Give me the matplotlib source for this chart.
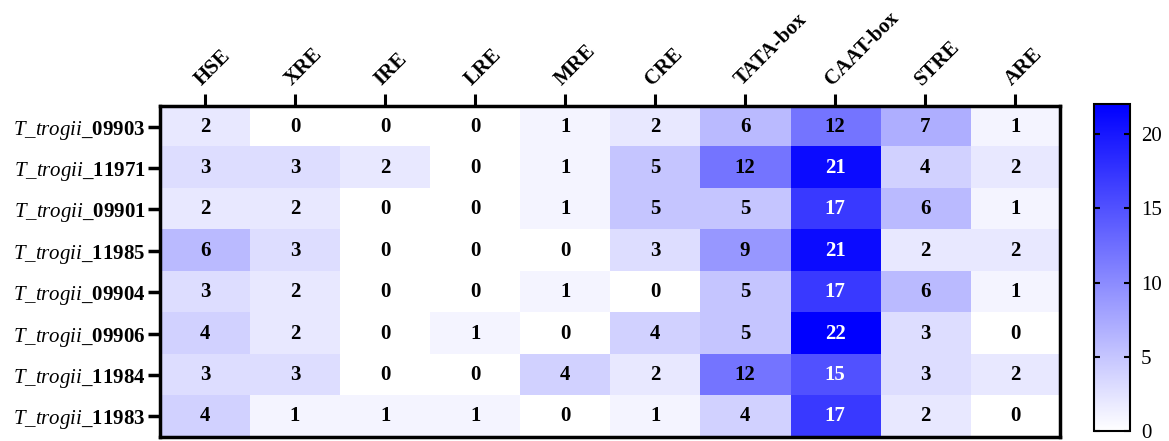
import numpy as np
import matplotlib
matplotlib.use("Agg")
import matplotlib.pyplot as plt
from matplotlib.colors import LinearSegmentedColormap

plt.rcParams['font.family'] = 'Liberation Serif'
plt.rcParams['mathtext.fontset'] = 'custom'
plt.rcParams['mathtext.rm'] = 'Liberation Serif'
plt.rcParams['mathtext.it'] = 'Liberation Serif:italic'
plt.rcParams['mathtext.bf'] = 'Liberation Serif:bold'

elements = ["HSE", "XRE", "IRE", "LRE", "MRE", "CRE", "TATA-box", "CAAT-box", "STRE", "ARE"]
genes = ["09903", "11971", "09901", "11985", "09904", "09906", "11984", "11983"]

counts = np.array([
    [2, 0, 0, 0, 1, 2, 6, 12, 7, 1],
    [3, 3, 2, 0, 1, 5, 12, 21, 4, 2],
    [2, 2, 0, 0, 1, 5, 5, 17, 6, 1],
    [6, 3, 0, 0, 0, 3, 9, 21, 2, 2],
    [3, 2, 0, 0, 1, 0, 5, 17, 6, 1],
    [4, 2, 0, 1, 0, 4, 5, 22, 3, 0],
    [3, 3, 0, 0, 4, 2, 12, 15, 3, 2],
    [4, 1, 1, 1, 0, 1, 4, 17, 2, 0],
])

cmap = LinearSegmentedColormap.from_list("wb", ["#ffffff", "#0000ff"])

fig = plt.figure(figsize=(11.69, 4.41), dpi=100)
ax = fig.add_axes([0.1369, 0.0091, 0.770, 0.7506])
cax = fig.add_axes([0.9358, 0.022, 0.0308, 0.742])

im = ax.imshow(counts, cmap=cmap, vmin=0, vmax=22, aspect='auto')

for i in range(counts.shape[0]):
    for j in range(counts.shape[1]):
        v = counts[i, j]
        ax.text(j, i, str(v), ha='center', va='center', fontsize=15,
                fontweight='bold', color='white' if v >= 15 else 'black')

ax.xaxis.tick_top()
ax.set_xticks(range(len(elements)))
ax.set_xticklabels(elements, rotation=45, ha='left', rotation_mode='anchor',
                   fontsize=15, fontweight='bold')
ax.set_yticks(range(len(genes)))
ax.set_yticklabels([r'$\mathit{T\_trogii}$$\mathbf{\_' + g + '}$' for g in genes],
                   fontsize=15)
ax.tick_params(axis='x', length=8.5, width=2.2, pad=3)
ax.tick_params(axis='y', length=8.5, width=2.5, pad=2)
for s in ax.spines.values():
    s.set_linewidth(2.5)

cb = fig.colorbar(im, cax=cax, ticks=[0, 5, 10, 15, 20])
cb.outline.set_linewidth(1.5)
cax.tick_params(labelsize=15, length=4, width=1.5, direction='in', left=True, right=True, pad=8)

fig.savefig("out.png", dpi=100)
